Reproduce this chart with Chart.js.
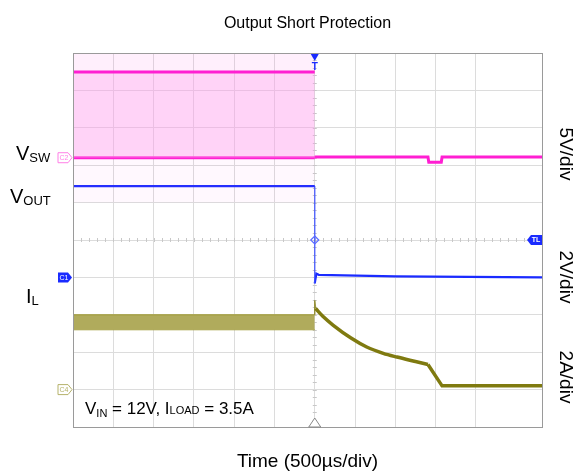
<!DOCTYPE html>
<html>
<head>
<meta charset="utf-8">
<script src="https://cdn.jsdelivr.net/npm/chart.js@4/dist/chart.umd.min.js"></script>
<style>
  html, body { margin: 0; padding: 0; background: #fff; }
  #wrap { width: 582px; height: 472px; }
</style>
</head>
<body>
<div id="wrap"><canvas id="scope" width="582" height="472"></canvas></div>
<script>
// all values in scope divisions (x: 0..11.64 div, y: 0..10 div)
var xMax = 11.64;
var trigX = 6;

// VSW (C2, 5V/div)
var vswPreX = [0, 6];
var vswHigh = [9.49, 9.49];
var vswLow = [7.2, 7.2];
var vswSpikeTop = [10, 10];
var vswSpikeBot = [6.0, 6.0];
var vswPostX = [6, 8.81, 8.83, 9.14, 9.16, 11.64];
var vswPost = [7.22, 7.22, 7.08, 7.08, 7.22, 7.22];

// VOUT (C1, 2V/div)
var voutPreX = [0, 6];
var voutPre = [6.44, 6.44];
var voutEdgeX = [6, 6];
var voutEdge = [6.44, 3.84];
var voutPostX = [6, 6.04, 6.1, 8, 11.64];
var voutPost = [3.84, 4.1, 4.07, 4.03, 4.0];

// IL (C4, 2A/div)
var ilPreX = [0, 6];
var ilBandTop = [3.0, 3.0];
var ilBandBot = [2.6, 2.6];
var ilEdgeX = [6, 6, 6.02];
var ilEdge = [3.0, 3.39, 3.17];
var ilDecayX = [6.02, 6.2, 6.46, 6.9, 7.29, 7.7, 8.04, 8.5, 8.81];
var ilDecay = [3.17, 2.96, 2.72, 2.38, 2.14, 1.97, 1.87, 1.75, 1.67];
var ilFallX = [8.81, 9.16, 11.64];
var ilFall = [1.67, 1.10, 1.10];

// channel ground markers
var gndC2 = 7.2, gndC1 = 4.0, gndC4 = 1.0;

function pts(xs, ys) {
  return xs.map(function (x, i) { return { x: x, y: ys[i] }; });
}

function line(data, color, width, extra) {
  var d = { data: data, borderColor: color, borderWidth: width, pointRadius: 0, showLine: true, fill: false, tension: 0 };
  for (var k in extra) d[k] = extra[k];
  return d;
}

var MAG = '#ff1fd2', BLUE = '#1a2bff', OLIVE = '#7f7a10';

var decor = {
  id: 'decor',
  beforeDatasetsDraw: function (chart) {
    var c = chart.ctx, xs = chart.scales.x, ys = chart.scales.y, a = chart.chartArea;
    // minor ticks on center lines
    c.save();
    c.strokeStyle = '#c8c8c8';
    c.lineWidth = 1;
    var cy = ys.getPixelForValue(5), cx = xs.getPixelForValue(trigX);
    for (var t = 0; t <= xMax; t += 0.2) {
      var px = Math.round(xs.getPixelForValue(t)) + 0.5;
      c.beginPath(); c.moveTo(px, cy - 2); c.lineTo(px, cy + 2); c.stroke();
    }
    for (var v = 0; v <= 10; v += 0.2) {
      var py = Math.round(ys.getPixelForValue(v)) + 0.5;
      c.beginPath(); c.moveTo(cx - 2, py); c.lineTo(cx + 2, py); c.stroke();
    }
    c.restore();
  },
  afterDraw: function (chart) {
    var c = chart.ctx, xs = chart.scales.x, ys = chart.scales.y, a = chart.chartArea;
    var F = '"Liberation Sans", Arial, sans-serif';
    c.save();
    // frame
    c.strokeStyle = '#9a9a9a'; c.lineWidth = 1;
    c.strokeRect(Math.round(a.left) + 0.5, Math.round(a.top) + 0.5, Math.round(a.right - a.left), Math.round(a.bottom - a.top));

    c.fillStyle = '#000';
    c.textBaseline = 'alphabetic';

    // title + x label
    c.textAlign = 'center';
    c.font = '16px ' + F;
    c.fillText('Output Short Protection', (a.left + a.right) / 2, 28);
    c.font = '19px ' + F;
    c.fillText('Time (500\u00b5s/div)', (a.left + a.right) / 2, 467);

    // left channel labels
    function sub(x, y, big, small, bs, ss, dy) {
      c.textAlign = 'left';
      c.font = bs + 'px ' + F;
      c.fillText(big, x, y);
      var w = c.measureText(big).width;
      c.font = ss + 'px ' + F;
      c.fillText(small, x + w, y + dy);
      return x + w + c.measureText(small).width;
    }
    sub(16, 160, 'V', 'SW', 20, 13, 2);
    sub(10, 203, 'V', 'OUT', 20, 13, 2);
    sub(26, 303, 'I', 'L', 20, 13, 2);

    // condition note
    var x = sub(85, 414, 'V', 'IN', 17, 11, 3);
    c.font = '17px ' + F;
    c.fillText(' = 12V, I', x, 414);
    x += c.measureText(' = 12V, I').width;
    c.font = '11px ' + F;
    c.fillText('LOAD', x, 414);
    x += c.measureText('LOAD').width;
    c.font = '17px ' + F;
    c.fillText(' = 3.5A', x, 414);

    // right scale labels, rotated
    function rot(text, yv) {
      c.save();
      c.translate(560, yv);
      c.rotate(Math.PI / 2);
      c.textAlign = 'center';
      c.font = '19px ' + F;
      c.fillText(text, 0, 0);
      c.restore();
    }
    rot('5V/div', 154);
    rot('2V/div', 277);
    rot('2A/div', 377);

    // trigger markers
    var tx = xs.getPixelForValue(trigX);
    c.fillStyle = BLUE;
    c.beginPath(); c.moveTo(tx - 4, a.top + 1); c.lineTo(tx + 4, a.top + 1); c.lineTo(tx, a.top + 8); c.closePath(); c.fill();
    c.font = 'bold 10px ' + F; c.textAlign = 'center';
    c.fillText('T', tx, a.top + 17);
    c.strokeStyle = '#888'; c.lineWidth = 1; c.fillStyle = '#fff';
    c.beginPath(); c.moveTo(tx - 6, a.bottom); c.lineTo(tx + 6, a.bottom); c.lineTo(tx, a.bottom - 9); c.closePath(); c.fill(); c.stroke();
    var dy = ys.getPixelForValue(5);
    c.strokeStyle = '#5a6bff'; c.lineWidth = 1.2;
    c.beginPath(); c.moveTo(tx, dy - 4); c.lineTo(tx + 4, dy); c.lineTo(tx, dy + 4); c.lineTo(tx - 4, dy); c.closePath(); c.stroke();

    // TL tag
    c.fillStyle = BLUE;
    c.beginPath(); c.moveTo(a.right, dy - 5); c.lineTo(a.right - 11, dy - 5); c.lineTo(a.right - 15, dy); c.lineTo(a.right - 11, dy + 5); c.lineTo(a.right, dy + 5); c.closePath(); c.fill();
    c.fillStyle = '#fff'; c.font = 'bold 7px ' + F; c.textAlign = 'center'; c.textBaseline = 'middle';
    c.fillText('TL', a.right - 6, dy + 0.5);

    // channel ground markers
    function tag(v, name, col, filled) {
      var py = ys.getPixelForValue(v), r = a.left - 1;
      c.beginPath(); c.moveTo(r - 14, py - 5); c.lineTo(r - 4, py - 5); c.lineTo(r, py); c.lineTo(r - 4, py + 5); c.lineTo(r - 14, py + 5); c.closePath();
      if (filled) { c.fillStyle = col; c.fill(); c.fillStyle = '#fff'; }
      else { c.fillStyle = '#fff'; c.fill(); c.strokeStyle = col; c.lineWidth = 1; c.stroke(); c.fillStyle = col; }
      c.font = '7px ' + F; c.textAlign = 'center'; c.textBaseline = 'middle';
      c.fillText(name, r - 8, py + 0.5);
    }
    tag(gndC2, 'C2', '#ff7fe6', false);
    tag(gndC1, 'C1', BLUE, true);
    tag(gndC4, 'C4', '#b5b26a', false);
    c.restore();
  }
};

var datasets = [
  // VSW
  line(pts(vswPostX, vswPost), MAG, 3),
  line(pts(vswPreX, vswHigh), MAG, 3, { fill: '+1', backgroundColor: 'rgba(255,150,235,0.42)' }),
  line(pts(vswPreX, vswLow), MAG, 3),
  line(pts(vswPreX, vswSpikeTop), 'rgba(0,0,0,0)', 0, { fill: { target: { value: 9.49 } }, backgroundColor: 'rgba(255,120,230,0.12)' }),
  line(pts(vswPreX, vswSpikeBot), 'rgba(0,0,0,0)', 0, { fill: { target: { value: 7.2 } }, backgroundColor: 'rgba(255,120,230,0.05)' }),
  // VOUT
  line(pts(voutPreX, voutPre), BLUE, 2.2),
  line(pts(voutEdgeX, voutEdge), 'rgba(60,80,255,0.6)', 1),
  line(pts(voutPostX, voutPost), BLUE, 2.2),
  // IL
  line(pts(ilDecayX, ilDecay), OLIVE, 3.5, { cubicInterpolationMode: 'monotone' }),
  line(pts(ilFallX, ilFall), OLIVE, 3.5),
  line(pts(ilEdgeX, ilEdge), 'rgba(130,125,20,0.8)', 1.5),
  line(pts(ilPreX, ilBandTop), '#9d982f', 1, { fill: '+1', backgroundColor: '#b0ab5c' }),
  line(pts(ilPreX, ilBandBot), '#9d982f', 1)
];

new Chart(document.getElementById('scope'), {
  type: 'scatter',
  data: { datasets: datasets },
  options: {
    responsive: false,
    animation: false,
    layout: { padding: { left: 73, right: 40, top: 53, bottom: 45 } },
    plugins: { legend: { display: false }, tooltip: { enabled: false }, title: { display: false } },
    scales: {
      x: {
        type: 'linear', min: 0, max: xMax,
        ticks: { display: false, stepSize: 1 },
        grid: { color: '#dcdcdc', drawTicks: false, lineWidth: 1 },
        border: { display: true, color: '#9a9a9a' }
      },
      y: {
        type: 'linear', min: 0, max: 10,
        ticks: { display: false, stepSize: 1 },
        grid: { color: '#dcdcdc', drawTicks: false, lineWidth: 1 },
        border: { display: true, color: '#9a9a9a' }
      }
    }
  },
  plugins: [decor]
});
</script>
</body>
</html>
